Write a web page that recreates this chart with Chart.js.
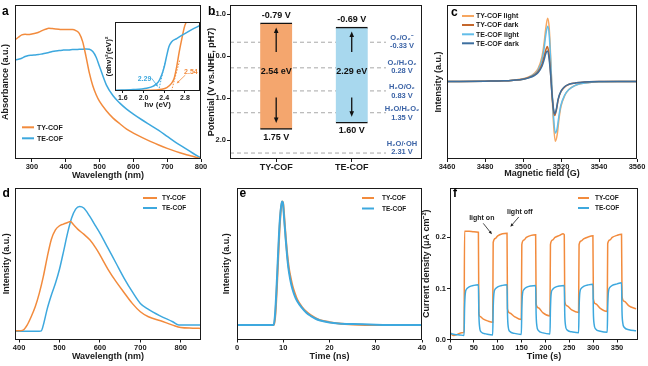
<!DOCTYPE html>
<html>
<head>
<meta charset="utf-8">
<script src="https://cdn.jsdelivr.net/npm/chart.js@4.4.1/dist/chart.umd.min.js"></script>
<style>
html,body{margin:0;padding:0;background:#fff;}
#fig{position:relative;width:648px;height:366px;overflow:hidden;background:#fff;}
#fig canvas{position:absolute;}
</style>
</head>
<body>
<div id="fig">
<canvas id="ca"></canvas><canvas id="cb"></canvas><canvas id="cc"></canvas>
<canvas id="cd"></canvas><canvas id="ce"></canvas><canvas id="cf"></canvas>
<canvas id="cai"></canvas>
</div>
<script>
// ================= DATA =================
const seriesNames = ['TY-COF', 'TE-COF'];

// (a) UV-vis absorbance
const aWavelength = [250,260,270,280,290,300,310,320,330,340,350,360,370,380,390,400,410,420,430,440,450,460,470,480,490,500,520,540,560,580,600,625,650,675,700,725,750,775,800];
const aTY = [3.58,3.66,3.73,3.75,3.74,3.76,3.78,3.81,3.86,3.90,3.93,3.92,3.91,3.90,3.89,3.89,3.89,3.89,3.86,3.78,3.53,3.08,2.58,2.20,1.93,1.73,1.45,1.23,1.06,0.90,0.78,0.65,0.53,0.42,0.32,0.23,0.15,0.08,0.01];
const aTE = [2.98,3.00,3.03,3.08,3.11,3.12,3.13,3.14,3.16,3.18,3.20,3.23,3.25,3.26,3.27,3.28,3.28,3.29,3.29,3.30,3.30,3.31,3.30,3.23,3.06,2.78,2.23,1.90,1.68,1.50,1.35,1.18,1.02,0.86,0.68,0.50,0.34,0.18,0.03];
const aTicks = [300,400,500,600,700,800];

// (a) inset Tauc plot
const insetEnergyTY = [1.45,2.10,2.35,2.45,2.54,2.59,2.64,2.69,2.74,2.79,2.83,2.87];
const insetTY = [0.005,0.01,0.025,0.05,0.11,0.18,0.35,0.57,0.76,0.93,1.01,1.10];
const insetEnergyTE = [1.45,1.80,2.06,2.19,2.29,2.35,2.40,2.45,2.49,2.54,2.64,2.77,2.93,3.09];
const insetTE = [0.01,0.02,0.04,0.07,0.135,0.23,0.35,0.52,0.64,0.71,0.76,0.82,0.89,0.95];
const insetTangentTop = [[2.70,0.45],[2.41,0.40]];
const insetTicks = [1.6,2.0,2.4,2.8];

// (b) band structure
const bCats = ['TY-COF', 'TE-COF'];
const bCB = [-0.79, -0.69];
const bVB = [1.75, 1.60];
const bGap = [2.54, 2.29];
const bRedox = [-0.33, 0.28, 0.83, 1.35, 2.31];
const bCouple = ['O\u2082/O\u2082\u207B', 'O\u2082/H\u2082O\u2082', 'H\u2082O/O\u2082', 'H\u2082O/H\u2082O\u2082', 'H\u2082O/\u00B7OH'];
const bTicks = [-1, 0, 1, 2];

// (c) EPR
const cNames = ['TY-COF light', 'TY-COF dark', 'TE-COF light', 'TE-COF dark'];
const cFieldLight = [3460,3480,3490,3495,3500,3503,3506,3508,3510,3511,3512,3513,3513.8,3514.5,3515.2,3516,3517,3518,3519,3520,3522,3524,3527,3530,3535,3540,3550,3560];
const cTYLight = [0,0.01,0.02,0.04,0.08,0.14,0.25,0.40,0.75,1.10,1.60,1.90,1.60,0.80,-0.20,-1.20,-1.80,-1.60,-1.10,-0.75,-0.42,-0.25,-0.13,-0.07,-0.03,-0.01,0,0];
const cTELight = [0,0.01,0.02,0.04,0.07,0.12,0.22,0.35,0.65,0.95,1.40,1.66,1.40,0.70,-0.15,-1.00,-1.55,-1.40,-1.00,-0.70,-0.40,-0.25,-0.13,-0.07,-0.03,-0.01,0,0];
const cFieldDark = [3460,3480,3490,3495,3500,3503,3506,3508,3510,3511,3512,3512.8,3513.6,3514.4,3515.2,3516,3516.7,3517.6,3518.5,3520,3522,3524,3527,3530,3535,3540,3550,3560];
const cTYDark = [0,0.01,0.02,0.04,0.07,0.12,0.20,0.30,0.52,0.72,0.95,1.05,0.85,0.35,-0.35,-0.85,-1.02,-0.85,-0.55,-0.30,-0.16,-0.09,-0.05,-0.03,-0.01,0,0,0];
const cTEDark = [0,0.01,0.02,0.04,0.07,0.11,0.18,0.27,0.46,0.63,0.84,0.92,0.75,0.30,-0.33,-0.80,-0.97,-0.82,-0.53,-0.29,-0.15,-0.09,-0.05,-0.03,-0.01,0,0,0];
const cTicks = [3460,3480,3500,3520,3540,3560];

// (d) PL
const dWavelengthTY = [390,400,410,420,430,440,450,460,470,480,490,500,510,520,527,535,545,560,575,590,600,620,640,660,680,700,720,750,780,800,830,850];
const dTY = [0.26,0.26,0.28,0.43,0.68,0.98,1.38,1.88,2.48,3.00,3.28,3.40,3.45,3.50,3.53,3.43,3.30,3.15,2.98,2.73,2.53,2.10,1.73,1.40,1.08,0.83,0.68,0.56,0.43,0.36,0.34,0.33];
const dWavelengthTE = [390,450,455,460,470,480,490,500,510,520,530,540,550,560,575,590,600,620,640,660,680,700,720,750,780,795,800,850];
const dTE = [0.25,0.25,0.26,0.43,0.93,1.33,1.68,2.10,2.63,3.18,3.63,3.90,3.98,3.93,3.68,3.38,3.18,2.73,2.28,1.83,1.43,1.08,0.90,0.70,0.53,0.43,0.43,0.43];
const dTicks = [400,500,600,700,800];

// (e) TRPL
const eTimeTY = [0,8.0,8.3,8.6,8.9,9.2,9.5,9.8,10.0,10.3,10.6,10.9,11.2,11.6,12,12.5,13,14,15,16,17,18,20,22,25,30,35,40];
const eTY = [0.43,0.43,0.75,1.50,2.40,3.30,3.90,4.13,4.05,3.50,2.95,2.50,2.15,1.85,1.60,1.38,1.20,0.98,0.83,0.72,0.64,0.58,0.52,0.48,0.45,0.43,0.43,0.43];
const eTimeTE = [0,7.9,8.2,8.5,8.8,9.1,9.4,9.7,9.9,10.2,10.5,10.8,11.1,11.5,12,12.5,13,14,15,16,17,18,20,22,25,30,35,40];
const eTE = [0.43,0.43,0.70,1.40,2.30,3.20,3.80,4.13,4.10,3.60,3.05,2.55,2.15,1.80,1.50,1.30,1.15,0.95,0.80,0.70,0.62,0.57,0.51,0.48,0.46,0.44,0.43,0.43];
const eTicks = [0,10,20,30,40];

// (f) photocurrent
const fTimeTY = [0,3,8,15,25,29.5, 30.5,40,50,59.5, 60.5,63,70,80,89.5, 90.5,95,100,110,119.5, 120.5,125,135,149.5, 150.5,155,160,170,179.5, 180.5,185,195,209.5, 210.5,215,220,230,237,239.5, 240.5,245,255,269.5, 270.5,275,280,290,299.5, 300.5,305,315,329.5, 330.5,335,340,350,359.5, 360.5,365,375,390];
const fTY = [0.016,0.010,0.008,0.010,0.013,0.015, 0.212,0.212,0.211,0.210, 0.052,0.045,0.040,0.036,0.034, 0.190,0.198,0.203,0.207,0.208, 0.060,0.052,0.045,0.039, 0.186,0.195,0.200,0.204,0.205, 0.070,0.062,0.052,0.046, 0.186,0.195,0.200,0.204,0.207,0.205, 0.075,0.066,0.058,0.053, 0.186,0.193,0.197,0.201,0.203, 0.080,0.070,0.061,0.055, 0.188,0.195,0.200,0.204,0.206, 0.085,0.075,0.066,0.060];
const fTimeTE = [0,10,20,29.5, 30.5,32,35,40,50,59.5, 60.5,62,65,75,89.5, 90.5,92,95,100,110,119.5, 120.5,122,125,135,149.5, 150.5,152,155,160,170,179.5, 180.5,182,185,195,209.5, 210.5,212,215,220,230,239.5, 240.5,242,245,255,269.5, 270.5,272,275,280,290,299.5, 300.5,302,305,315,329.5, 330.5,332,335,340,350,359.5, 360.5,362,365,375,390];
const fTE = [0.012,0.010,0.009,0.008, 0.060,0.090,0.099,0.103,0.106,0.107, 0.050,0.025,0.015,0.011,0.009, 0.060,0.090,0.099,0.103,0.106,0.107, 0.050,0.025,0.016,0.012,0.010, 0.060,0.090,0.098,0.102,0.105,0.106, 0.050,0.027,0.018,0.013,0.011, 0.060,0.090,0.098,0.102,0.105,0.106, 0.050,0.028,0.019,0.015,0.013, 0.060,0.091,0.100,0.104,0.107,0.108, 0.052,0.030,0.021,0.016,0.014, 0.062,0.093,0.102,0.106,0.109,0.111, 0.055,0.033,0.024,0.019,0.017];
const fTicksX = [0,50,100,150,200,250,300,350];
const fTicksY = [0,0.1,0.2];
const fNotes = ['light on', 'light off'];

// ================= STYLE / LAYOUT =================
const FF = '"Liberation Sans", Arial, Helvetica, sans-serif';
const fnt = s => 'bold ' + s + 'px ' + FF;
const ORANGE = '#f28b3d', BLUE = '#3da8de', INK = '#1a1a1a';
const C_TY_LIGHT = '#f6a660', C_TY_DARK = '#c4672c', C_TE_LIGHT = '#62bde9', C_TE_DARK = '#3d6f9f';
const BAR_FILL = ['#f4a66e', '#a8d8ee'];
const REDOX_INK = '#3b63a6';
const bSlot = [0.2406, 0.634];          // bar centre positions on the (0..1) x scale of panel b
const bDashEnd = 0.8125;
const bLabelX = 0.896;
const bLabelShift = [0, -1, 0.5, 0.5, -5];
const bGapLabelAt = 0.37, bArrowUpFrom = -0.10, bArrowDownFrom = 0.985;

Chart.defaults.font.family = FF;
Chart.defaults.font.weight = 'bold';
Chart.defaults.color = INK;

const pts = (xs, ys) => xs.map((x, i) => ({x: x, y: ys[i]}));

function arrow(ctx, x0, y0, x1, y1, head, color, lw) {
  const ang = Math.atan2(y1 - y0, x1 - x0), c = Math.cos(ang), s = Math.sin(ang);
  ctx.strokeStyle = color; ctx.fillStyle = color; ctx.lineWidth = lw;
  ctx.beginPath(); ctx.moveTo(x0, y0); ctx.lineTo(x1 - c * head * 0.8, y1 - s * head * 0.8); ctx.stroke();
  ctx.beginPath(); ctx.moveTo(x1, y1);
  ctx.lineTo(x1 - head * c + head * 0.42 * s, y1 - head * s - head * 0.42 * c);
  ctx.lineTo(x1 - head * c - head * 0.42 * s, y1 - head * s + head * 0.42 * c);
  ctx.closePath(); ctx.fill();
}

function xAxis(min, max, ticks, fmt, title, padB, size, tsize, tl) {
  return {
    type: 'linear', min: min, max: max, offset: false,
    afterBuildTicks: s => { s.ticks = ticks.map(v => ({value: v})); },
    ticks: {display: true, font: {size: size || 7.5, weight: 'bold', lineHeight: 1.1}, color: INK, padding: 1, maxRotation: 0, autoSkip: false, callback: fmt},
    grid: {display: true, offset: false, drawOnChartArea: false, drawTicks: true, tickLength: tl || 3, tickColor: INK},
    border: {display: false},
    title: {display: !!title, text: title || '', font: {size: tsize || 9, weight: 'bold', lineHeight: 1}, color: INK, padding: {top: 0, bottom: padB || 0}}
  };
}
function yAxis(min, max, title, padT, ticks, fmt, reverse, tsize) {
  const ax = {
    type: 'linear', min: min, max: max, reverse: !!reverse, offset: false,
    title: {display: true, text: title, font: {size: tsize || 9, weight: 'bold', lineHeight: 1}, color: INK, padding: {top: padT, bottom: 0}},
    border: {display: false}
  };
  if (ticks) {
    ax.afterBuildTicks = s => { s.ticks = ticks.map(v => ({value: v})); };
    ax.ticks = {display: true, font: {size: 7.5, weight: 'bold', lineHeight: 1.1}, color: INK, padding: 1, autoSkip: false, callback: fmt};
    ax.grid = {display: true, drawOnChartArea: false, drawTicks: true, tickLength: 3, tickColor: INK};
  } else {
    ax.ticks = {display: false};
    ax.grid = {display: false};
  }
  return ax;
}

function decoPlugin(box, d) {
  return {
    id: 'deco',
    beforeDraw(chart) {
      if (!d.fill) return;
      const a = chart.chartArea, ctx = chart.ctx;
      ctx.save(); ctx.fillStyle = '#fff'; ctx.fillRect(a.left, a.top, a.right - a.left, a.bottom - a.top); ctx.restore();
    },
    afterDraw(chart) {
      const a = chart.chartArea, ctx = chart.ctx;
      ctx.save();
      ctx.strokeStyle = INK; ctx.lineWidth = 1;
      const L = Math.round(a.left), T = Math.round(a.top), R = Math.round(a.right), B = Math.round(a.bottom);
      ctx.strokeRect(L + 0.5, T + 0.5, R - L - 1, B - T - 1);
      if (d.legend) {
        const g = d.legend;
        g.items.forEach((it, i) => {
          const y = g.y[i] - box.y;
          ctx.strokeStyle = it.color; ctx.lineWidth = 2;
          ctx.beginPath(); ctx.moveTo(g.x0 - box.x, y); ctx.lineTo(g.x1 - box.x, y); ctx.stroke();
          ctx.fillStyle = INK; ctx.font = fnt(g.size); ctx.textAlign = 'left'; ctx.textBaseline = 'middle';
          ctx.fillText(it.text, g.tx - box.x, y + 0.5);
        });
      }
      if (d.letter) {
        ctx.fillStyle = '#000'; ctx.font = fnt(12); ctx.textAlign = 'left'; ctx.textBaseline = 'alphabetic';
        ctx.fillText(d.letter[0], d.letter[1] - box.x, d.letter[2] - box.y);
      }
      if (d.extra) d.extra(chart, ctx);
      ctx.restore();
    }
  };
}

function panel(id, box, area, cfg, deco) {
  const cv = document.getElementById(id);
  cv.width = box.w; cv.height = box.h;
  cv.style.left = box.x + 'px'; cv.style.top = box.y + 'px';
  cv.style.width = box.w + 'px'; cv.style.height = box.h + 'px';
  const o = cfg.options;
  o.responsive = false; o.maintainAspectRatio = false; o.animation = false; o.devicePixelRatio = 1; o.events = [];
  o.layout = {padding: {left: 0, top: area.t - box.y, right: box.x + box.w - area.r, bottom: 0}};
  o.plugins = {legend: {display: false}, tooltip: {enabled: false}};
  o.elements = {point: {radius: 0}, line: {cubicInterpolationMode: 'monotone', borderWidth: 1.5}};
  o.scales.y.afterFit = s => { s.width = area.l - box.x; };
  o.scales.x.afterFit = s => { s.height = box.y + box.h - area.b; };
  cfg.plugins = [decoPlugin(box, deco)];
  return new Chart(cv, cfg);
}
const num = v => String(v);
const one = v => v.toFixed(1);

// ---------- (a) ----------
panel('ca', {x: 0, y: 0, w: 216, h: 183}, {l: 15, t: 5, r: 201, b: 159}, {
  type: 'line',
  data: {datasets: [
    {label: seriesNames[0], data: pts(aWavelength, aTY), borderColor: ORANGE, order: 1},
    {label: seriesNames[1], data: pts(aWavelength, aTE), borderColor: BLUE, order: 2}
  ]},
  options: {scales: {
    x: xAxis(250, 800, aTicks, num, 'Wavelength (nm)', 2.8),
    y: yAxis(0, 4.63, 'Absorbance (a.u.)', 0.8)
  }}
}, {letter: ['a', 2, 15], legend: {x0: 22, x1: 34, tx: 37, y: [127.3, 138.3], size: 7,
  items: [{color: ORANGE, text: seriesNames[0]}, {color: BLUE, text: seriesNames[1]}]}});

// ---------- (a) inset ----------
panel('cai', {x: 100, y: 15, w: 105, h: 102}, {l: 115, t: 22, r: 200, b: 91}, {
  type: 'line',
  data: {datasets: [
    {data: pts(insetEnergyTY, insetTY), borderColor: ORANGE, order: 2},
    {data: pts(insetEnergyTE, insetTE), borderColor: BLUE, order: 1},
    {data: [{x: bGap[0], y: 0}, {x: insetTangentTop[0][0], y: insetTangentTop[0][1]}], borderColor: ORANGE, borderWidth: 1, borderDash: [1.5, 1.5], order: 3},
    {data: [{x: bGap[1], y: 0}, {x: insetTangentTop[1][0], y: insetTangentTop[1][1]}], borderColor: BLUE, borderWidth: 1, borderDash: [1.5, 1.5], order: 3}
  ]},
  options: {scales: {
    x: xAxis(1.45, 3.09, insetTicks, one, 'h\u03BD (eV)', 8.7, 7, 8, 2),
    y: yAxis(0, 1, '(\u03B1h\u03BD)\u00B2(eV)\u00B2', 4.3, null, null, false, 8)
  }}
}, {fill: true, extra: (chart, ctx) => {
  const xs = chart.scales.x, ys = chart.scales.y;
  const X = v => xs.getPixelForValue(v), Y = v => ys.getPixelForValue(v);
  ctx.font = fnt(7); ctx.textAlign = 'center'; ctx.textBaseline = 'middle';
  ctx.fillStyle = BLUE; ctx.fillText(bGap[1].toFixed(2), X(2.02), Y(0.178));
  arrow(ctx, X(2.157), Y(0.184), X(bGap[1] - 0.01), Y(0.06), 3, BLUE, 0.8);
  ctx.fillStyle = ORANGE; ctx.fillText(bGap[0].toFixed(2), X(2.914), Y(0.28));
  arrow(ctx, X(2.808), Y(0.232), X(2.64), Y(0.11), 3, ORANGE, 0.8);
}});

// ---------- (b) ----------
const bDatasets = [{
  type: 'bar',
  data: bCats.map((c, i) => ({x: bSlot[i], y: [bCB[i], bVB[i]]})),
  backgroundColor: BAR_FILL, borderColor: '#111',
  borderWidth: {top: 1.5, bottom: 1.5, left: 0, right: 0}, borderSkipped: false,
  barThickness: 32, order: 1
}].concat(bRedox.map(v => ({
  type: 'line', data: [{x: 0, y: v}, {x: bDashEnd, y: v}],
  borderColor: '#a8a8a8', borderWidth: 1, borderDash: [4, 3], order: 2
})));
panel('cb', {x: 203, y: 0, w: 228, h: 183}, {l: 230, t: 5, r: 422, b: 159}, {
  type: 'bar',
  data: {datasets: bDatasets},
  options: {scales: {
    x: xAxis(0, 1, bSlot, (v, i) => bCats[i], null, 0, 9),
    y: yAxis(-1.214, 2.452, 'Potential (V vs.NHE, pH7)', 4.2, bTicks, one, true)
  }}
}, {letter: ['b', 208, 15], extra: (chart, ctx) => {
  const xs = chart.scales.x, ys = chart.scales.y;
  ctx.textAlign = 'center'; ctx.textBaseline = 'middle';
  bCats.forEach((c, i) => {
    const x = xs.getPixelForValue(bSlot[i]);
    const yt = ys.getPixelForValue(bCB[i]), yb = ys.getPixelForValue(bVB[i]);
    ctx.fillStyle = '#111'; ctx.font = fnt(9);
    ctx.fillText(bCB[i].toFixed(2) + ' V', x, yt - 7.5);
    ctx.fillText(bVB[i].toFixed(2) + ' V', x, yb + 7.5);
    ctx.fillText(bGap[i].toFixed(2) + ' eV', x, ys.getPixelForValue(bGapLabelAt));
    arrow(ctx, x, ys.getPixelForValue(bArrowUpFrom), x, yt + 4.5, 5.5, '#111', 1.3);
    arrow(ctx, x, ys.getPixelForValue(bArrowDownFrom), x, yb - 6.5, 5.5, '#111', 1.3);
  });
  const lx = xs.getPixelForValue(bLabelX);
  ctx.fillStyle = REDOX_INK; ctx.font = fnt(7.5);
  bRedox.forEach((v, i) => {
    const y = ys.getPixelForValue(v) + bLabelShift[i];
    ctx.fillText(bCouple[i], lx, y - 4.2);
    ctx.fillText(v.toFixed(2) + ' V', lx, y + 4.2);
  });
}});

// ---------- (c) ----------
panel('cc', {x: 432, y: 0, w: 216, h: 183}, {l: 447, t: 5, r: 637, b: 159}, {
  type: 'line',
  data: {datasets: [
    {label: cNames[0], data: pts(cFieldLight, cTYLight), borderColor: C_TY_LIGHT, order: 4},
    {label: cNames[1], data: pts(cFieldDark, cTYDark), borderColor: C_TY_DARK, order: 2},
    {label: cNames[2], data: pts(cFieldLight, cTELight), borderColor: C_TE_LIGHT, order: 3},
    {label: cNames[3], data: pts(cFieldDark, cTEDark), borderColor: C_TE_DARK, order: 1}
  ]},
  options: {scales: {
    x: xAxis(3460, 3560, cTicks, num, 'Magnetic field (G)', 4.5),
    y: yAxis(-2.33, 2.30, 'Intensity (a.u.)', 2.5)
  }}
}, {letter: ['c', 451, 16], legend: {x0: 462, x1: 474, tx: 476, y: [16, 25, 34.3, 43.3], size: 7,
  items: [{color: C_TY_LIGHT, text: cNames[0]}, {color: C_TY_DARK, text: cNames[1]}, {color: C_TE_LIGHT, text: cNames[2]}, {color: C_TE_DARK, text: cNames[3]}]}});

// ---------- (d) ----------
panel('cd', {x: 0, y: 183, w: 216, h: 183}, {l: 15, t: 188, r: 201, b: 339.5}, {
  type: 'line',
  data: {datasets: [
    {label: seriesNames[0], data: pts(dWavelengthTY, dTY), borderColor: ORANGE, order: 1},
    {label: seriesNames[1], data: pts(dWavelengthTE, dTE), borderColor: BLUE, order: 2}
  ]},
  options: {scales: {
    x: xAxis(390, 850, dTicks, num, 'Wavelength (nm)', 4.5),
    y: yAxis(0, 4.53, 'Intensity (a.u.)', 2.2)
  }}
}, {letter: ['d', 2.5, 197], legend: {x0: 143, x1: 157, tx: 162, y: [198, 208], size: 6.5,
  items: [{color: ORANGE, text: seriesNames[0]}, {color: BLUE, text: seriesNames[1]}]}});

// ---------- (e) ----------
panel('ce', {x: 216, y: 183, w: 216, h: 183}, {l: 237, t: 188, r: 422, b: 339.5}, {
  type: 'line',
  data: {datasets: [
    {label: seriesNames[0], data: pts(eTimeTY, eTY), borderColor: ORANGE, borderWidth: 2, order: 2},
    {label: seriesNames[1], data: pts(eTimeTE, eTE), borderColor: BLUE, borderWidth: 2, order: 1}
  ]},
  options: {scales: {
    x: xAxis(0, 40, eTicks, num, 'Time (ns)', 5.2),
    y: yAxis(0, 4.53, 'Intensity (a.u.)', 6.2)
  }}
}, {letter: ['e', 239.5, 197], legend: {x0: 362, x1: 374, tx: 382, y: [198, 208.5], size: 6.5,
  items: [{color: ORANGE, text: seriesNames[0]}, {color: BLUE, text: seriesNames[1]}]}});

// ---------- (f) ----------
panel('cf', {x: 418, y: 183, w: 230, h: 183}, {l: 450, t: 188, r: 638, b: 339.5}, {
  type: 'line',
  data: {datasets: [
    {label: seriesNames[0], data: pts(fTimeTY, fTY), borderColor: ORANGE, order: 2},
    {label: seriesNames[1], data: pts(fTimeTE, fTE), borderColor: BLUE, order: 1}
  ]},
  options: {scales: {
    x: xAxis(0, 394, fTicksX, num, 'Time (s)', 4.5),
    y: yAxis(0, 0.2965, 'Current density (\u03BCA cm\u207B\u00B2)', 4.5, fTicksY, one)
  }}
}, {letter: ['f', 453, 197], legend: {x0: 578, x1: 589, tx: 595, y: [198, 208], size: 6.5,
  items: [{color: ORANGE, text: seriesNames[0]}, {color: BLUE, text: seriesNames[1]}]},
  extra: (chart, ctx) => {
    const xs = chart.scales.x, ys = chart.scales.y;
    const X = v => xs.getPixelForValue(v), Y = v => ys.getPixelForValue(v);
    ctx.fillStyle = INK; ctx.font = fnt(7); ctx.textAlign = 'center'; ctx.textBaseline = 'middle';
    ctx.fillText(fNotes[0], X(66.6), Y(0.237));
    arrow(ctx, X(69.7), Y(0.2275), X(88), Y(0.206), 3.5, INK, 0.8);
    ctx.fillText(fNotes[1], X(146.3), Y(0.249));
    arrow(ctx, X(144.2), Y(0.240), X(126.4), Y(0.2207), 3.5, INK, 0.8);
  }});
</script>
</body>
</html>
